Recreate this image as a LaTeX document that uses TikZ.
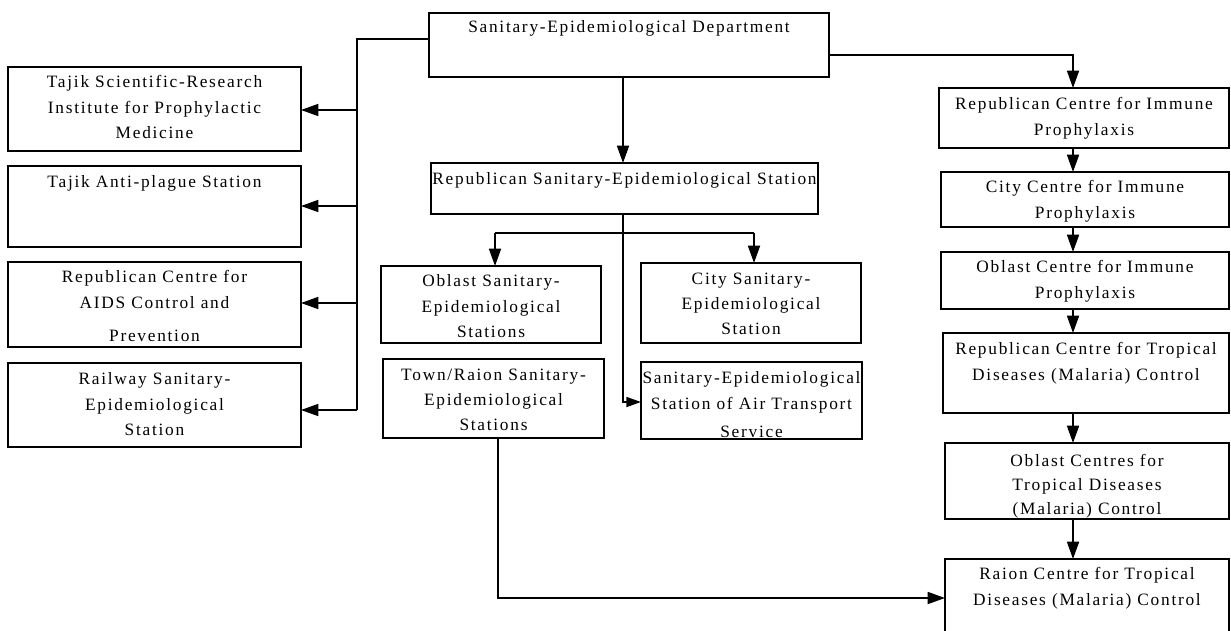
\documentclass[tikz,border=0pt]{standalone}
\usepackage{fontspec}
\setmainfont{Liberation Serif}[LetterSpace=10]
\usetikzlibrary{arrows.meta}
\newcommand\mkbox[5]{\node[boxst, minimum width={(#4-#2)*0.75pt}, minimum height={(#5-#3)*0.75pt}] (#1) at ({(#2+#4)/2},{(#3+#5)/2}) {};}
\begin{document}
\begin{tikzpicture}[x=0.75pt,y=-0.75pt,
  boxst/.style={draw, line width=1.3pt, inner sep=0pt, outer sep=0pt},
  txt/.style={anchor=north, inner sep=0pt, align=center, font=\fontsize{13}{19}\selectfont},
  conn/.style={line width=1.3pt},
  arr/.style={line width=1.3pt, -{Triangle[length=13pt,width=9pt]}},
  sarr/.style={line width=1.3pt, -{Triangle[length=11pt,width=7.5pt]}}]
\useasboundingbox (0,0) rectangle (1231,631);

% boxes
\mkbox{dept}{429}{13}{829}{77}
\mkbox{A}{8}{67}{301}{151}
\mkbox{B}{8}{166}{301}{247}
\mkbox{C}{8}{262}{301}{347}
\mkbox{D}{8}{363}{301}{447}
\mkbox{rss}{431}{163}{818}{214}
\mkbox{osea}{381}{266}{601}{343}
\mkbox{trs}{383}{359}{604}{438}
\mkbox{cse}{641}{263}{861}{343}
\mkbox{air}{641}{362}{862}{439}
\mkbox{rimm}{939}{88}{1229}{148}
\mkbox{cimm}{941}{172}{1229}{227}
\mkbox{oimm}{941}{252}{1229}{309}
\mkbox{rtrop}{943}{333}{1229}{413}
\mkbox{otrop}{945}{443}{1229}{519}
\mkbox{raion}{945}{559}{1229}{645}

% texts
\node[txt] (tdept) at (629,20.5) {Sanitary-Epidemiological Department};
\node[txt] (tA) at (154.5,75.5) {Tajik Scientific-Research\\Institute for Prophylactic\\Medicine};
\node[txt] (tB) at (154.5,175.5) {Tajik Anti-plague Station};
\node[txt] (tC) at (154.5,270.5) {Republican Centre for\\AIDS Control and\\[6pt]Prevention};
\node[txt] (tD) at (154.5,372.5) {Railway Sanitary-\\Epidemiological\\Station};
\node[txt] (trss) at (624.5,172.5) {Republican Sanitary-Epidemiological Station};
\node[txt] (tosea) at (491,274.5) {Oblast Sanitary-\\Epidemiological\\Stations};
\node[txt] (ttrs) at (493.5,368.5) {Town/Raion Sanitary-\\Epidemiological\\Stations};
\node[txt] (tcse) at (751,272.5) {City Sanitary-\\Epidemiological\\Station};
\node[txt] (tair) at (751.5,371.5) {Sanitary-Epidemiological\\Station of Air Transport\\[2pt]Service};
\node[txt] (trimm) at (1084,97.5) {Republican Centre for Immune\\Prophylaxis};
\node[txt] (tcimm) at (1085,180.5) {City Centre for Immune\\Prophylaxis};
\node[txt] (toimm) at (1085,260.5) {Oblast Centre for Immune\\Prophylaxis};
\node[txt] (trtrop) at (1086,342.5) {Republican Centre for Tropical\\Diseases (Malaria) Control};
\node[txt, font=\fontsize{13}{17.8}\selectfont] (totrop) at (1087,454.5) {Oblast Centres for\\Tropical Diseases\\(Malaria) Control};
\node[txt] (traion) at (1087,567.5) {Raion Centre for Tropical\\Diseases (Malaria) Control};

% helper coordinates
\coordinate (tr) at (357,39);
\coordinate (kA) at (357,110);
\coordinate (kB) at (357,206);
\coordinate (kC) at (357,303);
\coordinate (kD) at (357,410);
\coordinate (c1) at (623,0);
\coordinate (rx) at (1073,55);
\coordinate (ay) at (623,402);
\coordinate (bl) at (495,233);
\coordinate (br) at (754,233);
\coordinate (ty) at (498,598);

% left trunk
\draw[conn] (dept.west |- tr) -- (tr) -- (kD);
\draw[arr] (kA) -- (A.east |- kA);
\draw[arr] (kB) -- (B.east |- kB);
\draw[arr] (kC) -- (C.east |- kC);
\draw[arr] (kD) -- (D.east |- kD);

% centre
\draw[arr] (dept.south -| c1) -- (rss.north -| c1);
\draw[sarr] (rss.south -| ay) -- (ay) -- (air.west |- ay);
\draw[conn] (bl) -- (br);
\draw[arr] (bl) -- (osea.north -| bl);
\draw[arr] (br) -- (cse.north -| br);
\draw[arr] (trs.south -| ty) -- (ty) -- (raion.west |- ty);

% right column
\draw[arr] (dept.east |- rx) -| (rimm.north -| rx);
\draw[arr] (rimm.south -| rx) -- (cimm.north -| rx);
\draw[arr] (cimm.south -| rx) -- (oimm.north -| rx);
\draw[arr] (oimm.south -| rx) -- (rtrop.north -| rx);
\draw[arr] (rtrop.south -| rx) -- (otrop.north -| rx);
\draw[arr] (otrop.south -| rx) -- (raion.north -| rx);
\end{tikzpicture}
\end{document}
